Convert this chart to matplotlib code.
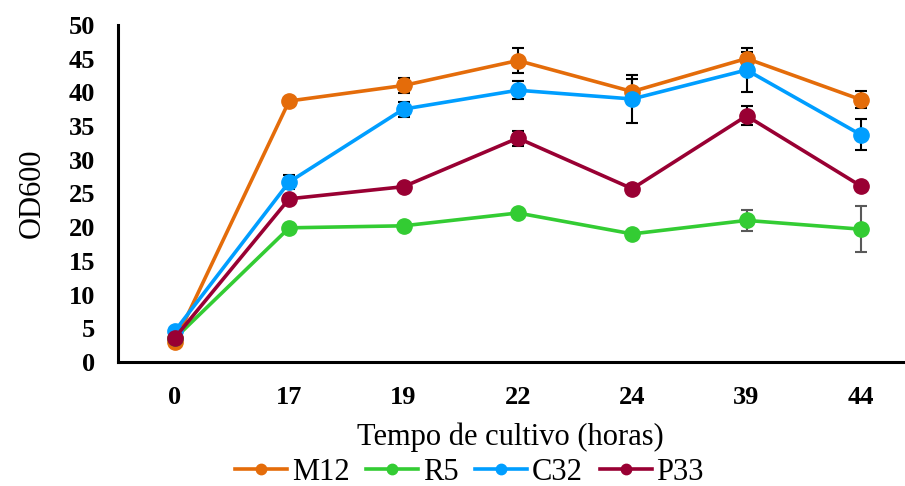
import matplotlib
matplotlib.use('Agg')
import matplotlib.pyplot as plt
import numpy as np

plt.rcParams['font.family'] = ['Liberation Serif', 'DejaVu Serif']

# ===== 데이터 =====
horas = ['0', '17', '19', '22', '24', '39', '44']

m12 = [3.0, 38.7, 41.0, 44.7, 40.1, 45.0, 38.9]
r5 = [3.5, 19.9, 20.2, 22.1, 19.0, 21.0, 19.7]
c32 = [4.6, 26.7, 37.5, 40.3, 39.0, 43.3, 33.7]
p33 = [3.6, 24.2, 26.0, 33.2, 25.7, 36.5, 26.1]

m12_err = [0.3, 0.3, 1.1, 1.8, 1.8, 0.9, 1.3]
r5_err = [0.2, 0.4, 0.3, 0.3, 0.3, 1.5, 3.4]
c32_err = [0.3, 1.0, 1.1, 1.3, 3.6, 3.2, 2.3]
p33_err = [0.3, 0.6, 0.4, 1.1, 0.5, 1.4, 0.4]

series = [
    ('M12', m12, m12_err, '#E46C0A', 'black'),
    ('R5', r5, r5_err, '#33CC33', '#595959'),
    ('C32', c32, c32_err, '#009EFF', 'black'),
    ('P33', p33, p33_err, '#990033', 'black'),
]

fig = plt.figure(figsize=(9.05, 4.86), dpi=100)
ax = fig.add_axes([0.130, 0.255, 0.868, 0.694])

x = np.arange(len(horas))
for nome, vals, err, cor, ecor in series:
    ax.errorbar(x, vals, yerr=err, fmt='none', ecolor=ecor,
                elinewidth=1.5, capsize=4, capthick=1.5, zorder=2)
    ax.plot(x, vals, '-o', color=cor, linewidth=2.6, markersize=11,
            label=nome, zorder=3)

ax.set_xlim(-0.5, 6.37)
ax.set_ylim(0, 50)
ax.set_yticks(np.arange(0, 51, 5))
ax.set_xticks(x)
ax.set_xticklabels(horas)

for s in ['top', 'right']:
    ax.spines[s].set_visible(False)
for s in ['left', 'bottom']:
    ax.spines[s].set_linewidth(2.2)
    ax.spines[s].set_color('black')

ax.tick_params(axis='both', length=0, labelsize=19)
ax.tick_params(axis='x', pad=17)
ax.tick_params(axis='y', pad=16)
for lbl in ax.get_xticklabels() + ax.get_yticklabels():
    lbl.set_fontweight('bold')

ax.set_ylabel('OD600', fontsize=22, labelpad=16)
ax.set_xlabel('Tempo de cultivo (horas)', fontsize=22, labelpad=10)

ax.legend(loc='center', bbox_to_anchor=(0.448, -0.326), ncol=4,
          frameon=False, fontsize=22, handlelength=1.7, handletextpad=0.15,
          columnspacing=0.55, markerscale=0.68, borderaxespad=0,
          borderpad=0)

fig.savefig('out.png', dpi=100)
